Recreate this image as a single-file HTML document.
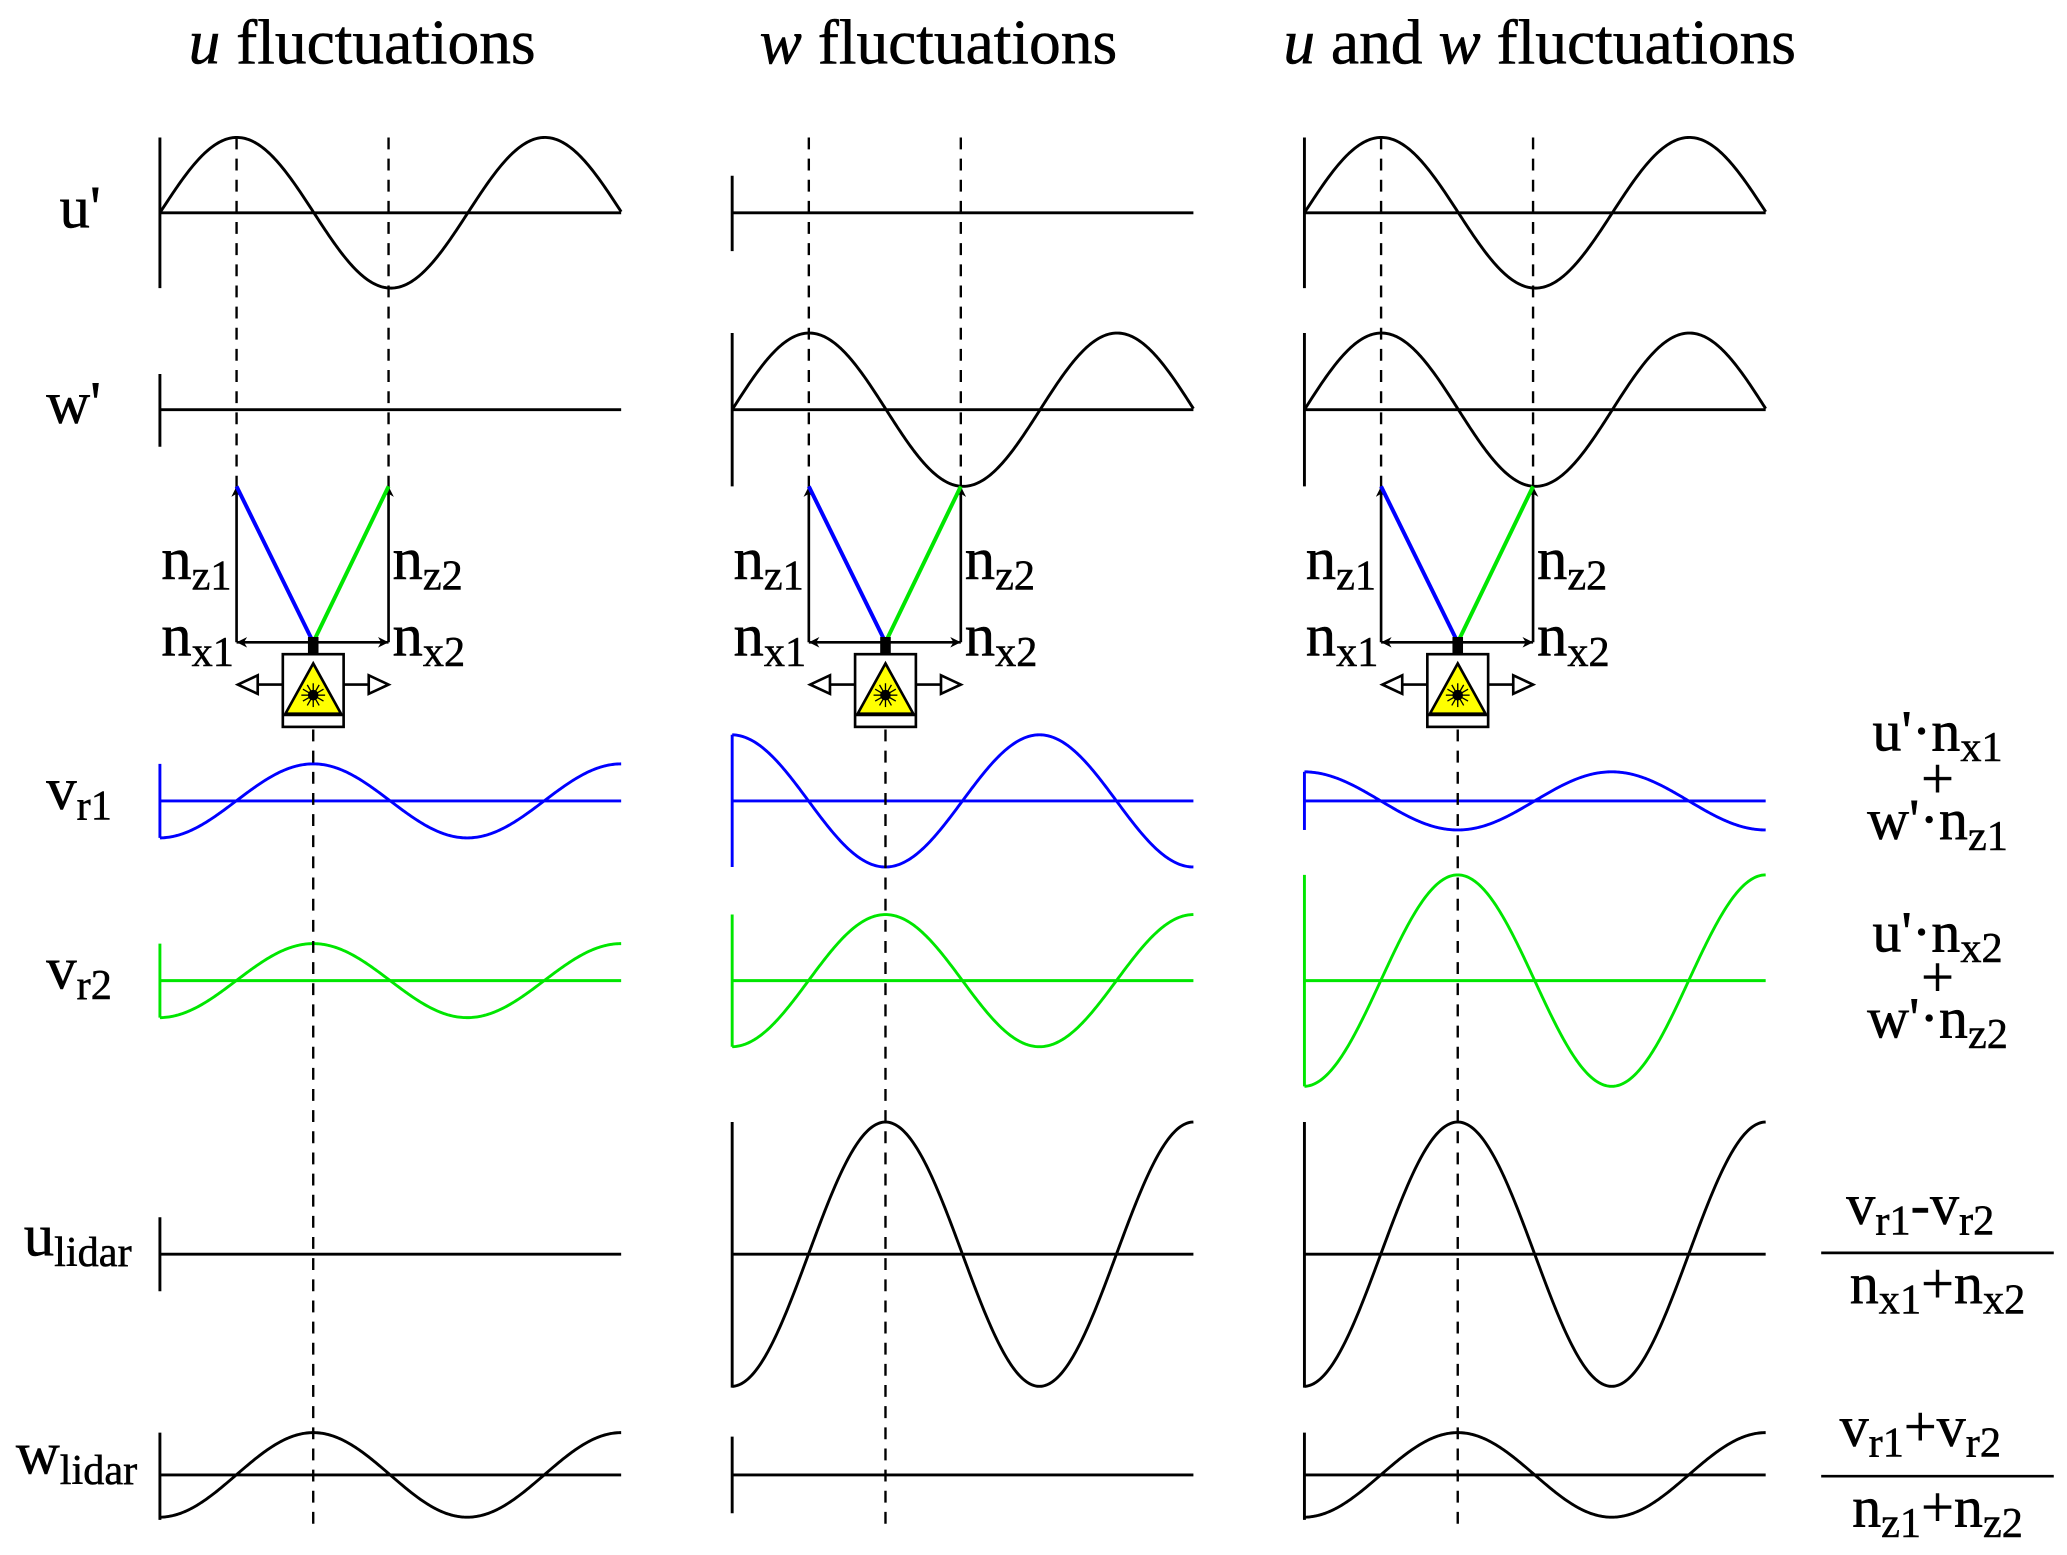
<!DOCTYPE html>
<html><head><meta charset="utf-8"><style>
html,body{margin:0;padding:0;background:#fff}
svg{display:block}
text{font-family:"Liberation Serif",serif;fill:#000;stroke:#000;stroke-width:0.4}
</style></head><body>
<svg id="s" width="2067" height="1555" viewBox="0 0 1564 1176.6" preserveAspectRatio="none" xmlns="http://www.w3.org/2000/svg">
<g font-size="48">
<text x="274" y="48" text-anchor="middle"><tspan font-style="italic">u</tspan> fluctuations</text>
<text x="710" y="48" text-anchor="middle"><tspan font-style="italic">w</tspan> fluctuations</text>
<text x="1165" y="48" text-anchor="middle"><tspan font-style="italic">u</tspan> and <tspan font-style="italic">w</tspan> fluctuations</text>
</g>
<g font-size="46">
<text x="45" y="172">u'</text>
<text x="35" y="320">w'</text>
<text x="35" y="612">v<tspan font-size="32" dy="8">r1</tspan></text>
<text x="35" y="748">v<tspan font-size="32" dy="8">r2</tspan></text>
<text x="18" y="950">u<tspan font-size="32" dy="8">lidar</tspan></text>
<text x="12" y="1115">w<tspan font-size="32" dy="8">lidar</tspan></text>
</g>
<g font-size="44" text-anchor="middle">
<text x="1466" y="568">u'·n<tspan font-size="32" dy="8">x1</tspan></text>
<text x="1466" y="604">+</text>
<text x="1466" y="635">w'·n<tspan font-size="32" dy="8">z1</tspan></text>
<text x="1466" y="720">u'·n<tspan font-size="32" dy="8">x2</tspan></text>
<text x="1466" y="754">+</text>
<text x="1466" y="785">w'·n<tspan font-size="32" dy="8">z2</tspan></text>
<text x="1453" y="926">v<tspan font-size="32" dy="8">r1</tspan><tspan dy="-8">-v</tspan><tspan font-size="32" dy="8">r2</tspan></text>
<text x="1466" y="986">n<tspan font-size="32" dy="8">x1</tspan><tspan dy="-8">+n</tspan><tspan font-size="32" dy="8">x2</tspan></text>
<text x="1453" y="1094">v<tspan font-size="32" dy="8">r1</tspan><tspan dy="-8">+v</tspan><tspan font-size="32" dy="8">r2</tspan></text>
<text x="1466" y="1155">n<tspan font-size="32" dy="8">z1</tspan><tspan dy="-8">+n</tspan><tspan font-size="32" dy="8">z2</tspan></text>
</g>
<line x1="1378" y1="948" x2="1554" y2="948" stroke="#000" stroke-width="2"/>
<line x1="1378" y1="1117" x2="1554" y2="1117" stroke="#000" stroke-width="2"/>
<defs>
<marker id="ah" viewBox="0 0 10 10" refX="10" refY="5" markerWidth="8" markerHeight="8" orient="auto-start-reverse" markerUnits="userSpaceOnUse">
<path d="M0,0 L10,5 L0,10 L3,5 z" fill="#000"/></marker>
</defs>
<g id="g"></g>
</svg>
<script>
var g=document.getElementById('g'),NS='http://www.w3.org/2000/svg';
function el(t,a){var e=document.createElementNS(NS,t);for(var k in a)e.setAttribute(k,a[k]);g.appendChild(e);return e;}
var P=233;
function wave(x0,base,amp,phaseX,col,fn){
  var d='';for(var x=x0;x<=x0+349.01;x+=1){var v=fn=='sin'?Math.sin(2*Math.PI*(x-phaseX)/P):Math.cos(2*Math.PI*(x-phaseX)/P);
  var y=base-amp*v;d+=(x==x0?'M':'L')+x.toFixed(1)+','+y.toFixed(2);}
  el('path',{d:d,fill:'none',stroke:col,'stroke-width':2.2});
}
function axis(x0,base,top,bot,col){el('line',{x1:x0,y1:top,x2:x0,y2:bot,stroke:col,'stroke-width':2.2});el('line',{x1:x0,y1:base,x2:x0+349,y2:base,stroke:col,'stroke-width':2.2});}
var B='#0000ff',G='#00e600',K='#000';
var cols=[121,554,987];
cols.forEach(function(x0,i){
  var c=x0+116;
  if(i!=1){axis(x0,161,104,218,K);wave(x0,161,57,x0,K,'sin');}else axis(x0,161,133,190,K);
  if(i!=0){axis(x0,310,252,368,K);wave(x0,310,58,x0,K,'sin');}else axis(x0,310,283,338,K);
  var a1=[-28,50,22][i];axis(x0,606,606-Math.abs(a1),606+Math.abs(a1),B);wave(x0,606,-a1,c,B,'cos');
  var a2=[28,50,80][i];axis(x0,742,742-a2,742+a2,G);wave(x0,742,a2,c,G,'cos');
  if(i==0)axis(x0,949,921,977,K);else{axis(x0,949,849,1050,K);wave(x0,949,100,c,K,'cos');}
  if(i==1)axis(x0,1116,1087,1145,K);else{axis(x0,1116,1084,1150,K);wave(x0,1116,32,c,K,'cos');}
  var l=x0+58,r=x0+173;
  el('line',{x1:l,y1:104,x2:l,y2:368,stroke:K,'stroke-width':1.8,'stroke-dasharray':'9,7'});
  el('line',{x1:r,y1:104,x2:r,y2:368,stroke:K,'stroke-width':1.8,'stroke-dasharray':'9,7'});
  el('line',{x1:c,y1:552,x2:c,y2:1156,stroke:K,'stroke-width':1.8,'stroke-dasharray':'9,7'});
  el('line',{x1:l,y1:486,x2:l,y2:368,stroke:K,'stroke-width':2,'marker-end':'url(#ah)'});
  el('line',{x1:r,y1:486,x2:r,y2:368,stroke:K,'stroke-width':2,'marker-end':'url(#ah)'});
  el('line',{x1:c,y1:486,x2:l,y2:486,stroke:K,'stroke-width':2,'marker-end':'url(#ah)'});
  el('line',{x1:c,y1:486,x2:r,y2:486,stroke:K,'stroke-width':2,'marker-end':'url(#ah)'});
  el('line',{x1:c,y1:486,x2:l,y2:368,stroke:B,'stroke-width':3});
  el('line',{x1:c,y1:486,x2:r,y2:368,stroke:G,'stroke-width':3});
  el('rect',{x:c-4,y:482,width:8,height:13,fill:K});
  el('rect',{x:c-23,y:495,width:46,height:55,fill:'#fff',stroke:K,'stroke-width':2});
  el('line',{x1:c-23,y1:541,x2:c+23,y2:541,stroke:K,'stroke-width':2});
  el('path',{d:'M'+c+',502 L'+(c+21)+',540 L'+(c-21)+',540 Z',fill:'#ffff00',stroke:K,'stroke-width':2});
  el('circle',{cx:c,cy:526,r:4,fill:K});
  for(var k=0;k<12;k++){var an=k*Math.PI/6;el('line',{x1:c,y1:526,x2:c+9*Math.cos(an),y2:526+9*Math.sin(an),stroke:K,'stroke-width':1});}
  el('line',{x1:c-23,y1:518,x2:c-42,y2:518,stroke:K,'stroke-width':2});
  el('path',{d:'M'+(c-42)+',511 L'+(c-57)+',518 L'+(c-42)+',525 Z',fill:'#fff',stroke:K,'stroke-width':2});
  el('line',{x1:c+23,y1:518,x2:c+42,y2:518,stroke:K,'stroke-width':2});
  el('path',{d:'M'+(c+42)+',511 L'+(c+57)+',518 L'+(c+42)+',525 Z',fill:'#fff',stroke:K,'stroke-width':2});
  function t(x,y,s){var e=el('text',{x:x,y:y,'font-size':46});e.innerHTML=s;}
  t(x0+1,438,'n<tspan font-size="32" dy="8">z1</tspan>');
  t(r+3,438,'n<tspan font-size="32" dy="8">z2</tspan>');
  t(x0+1,496,'n<tspan font-size="32" dy="8">x1</tspan>');
  t(r+3,496,'n<tspan font-size="32" dy="8">x2</tspan>');
});
</script>
</body></html>
